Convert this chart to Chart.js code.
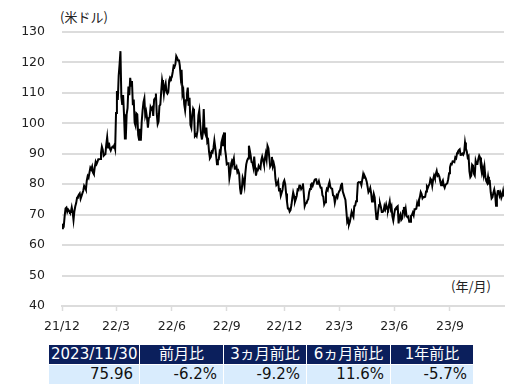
<!DOCTYPE html>
<html>
<head>
<meta charset="utf-8">
<script src="https://cdn.jsdelivr.net/npm/chart.js@4"></script>
<style>
  body { margin: 0; background: #fff; width: 529px; height: 386px; overflow: hidden; position: relative; font-family: "DejaVu Sans", sans-serif; }
  #wrap { position: absolute; left: 0; top: 0; width: 529px; height: 340px; }
  .unit { position: absolute; font-family: "Noto Sans CJK JP", sans-serif; font-size: 13px; color: #222; }
  table { position: absolute; left: 48px; top: 344px; border-collapse: collapse; table-layout: fixed; width: 425px; }
  td { padding: 0 6px; height: 19px; border: 1px solid #fff; font-size: 15px; line-height: 19px; white-space: nowrap; overflow: hidden; }
  tr.head td { background: #0b1f5c; color: #fff; text-align: center; font-family: "DejaVu Sans", "Noto Sans CJK JP", sans-serif; padding: 0 2px; }
  tr.vals td { background: #d9ecfd; color: #111; text-align: right; }
</style>
</head>
<body>
<div class="unit" style="left:60px; top:7px;">(米ドル)</div>
<div class="unit" style="left:451px; top:276px;">(年/月)</div>
<div id="wrap"><canvas id="oilChart" width="529" height="340"></canvas></div>
<table id="summary"></table>
<script>
// WTI daily close, grouped by month (USD/bbl)
const m2112 = [65.57, 66.50, 66.26, 69.49, 72.05, 72.36, 70.94, 71.67, 71.29, 70.73, 70.87, 72.38, 70.86, 68.23, 71.12, 72.76, 73.79, 75.57, 75.98, 76.56, 76.99, 75.21];
const m2201 = [76.08, 76.99, 77.85, 79.46, 78.90, 78.23, 81.22, 82.64, 82.12, 83.82, 85.43, 84.89, 85.80, 83.82, 83.31, 85.60, 87.35, 86.61, 87.35, 88.20];
const m2202 = [88.20, 88.26, 90.27, 92.31, 91.32, 89.36, 89.66, 89.88, 93.10, 95.46, 92.07, 93.66, 91.76, 91.07, 91.91, 92.35, 92.10, 92.81, 91.59];
const m2203 = [103.41, 110.60, 107.67, 115.68, 119.40, 123.70, 108.70, 106.02, 109.33, 103.01, 95.04, 95.04, 102.98, 104.98, 112.12, 109.27, 114.93, 112.34, 113.90, 105.96, 107.82, 100.28];
const m2204 = [99.27, 103.28, 102.96, 96.23, 94.58, 98.26, 94.29, 100.60, 104.25, 106.95, 108.21, 102.56, 103.79, 101.70, 98.54, 101.70, 102.07, 105.36, 104.69];
const m2205 = [105.17, 102.41, 107.81, 108.26, 109.77, 103.09, 99.76, 100.60, 105.71, 106.13, 110.49, 114.20, 112.40, 109.59, 112.21, 113.23, 110.28, 109.77, 110.33, 114.09, 115.07, 114.67];
const m2206 = [115.26, 116.87, 118.87, 118.50, 119.41, 122.11, 121.51, 120.67, 120.93, 118.93, 115.31, 117.59, 109.56, 110.65, 106.19, 104.27, 107.62, 109.57, 111.76, 105.76];
const m2207 = [108.43, 99.50, 98.53, 102.73, 104.79, 104.09, 95.84, 96.30, 95.78, 97.59, 102.60, 104.22, 99.88, 96.35, 94.70, 96.70, 104.72, 97.26, 96.42, 98.62];
const m2208 = [93.89, 94.42, 90.66, 88.54, 89.01, 90.76, 90.50, 91.93, 94.34, 92.09, 89.41, 86.53, 87.91, 88.11, 90.77, 90.23, 93.74, 94.89, 92.52, 97.01, 91.64, 89.55];
const m2209 = [86.61, 86.87, 86.88, 81.94, 83.54, 86.79, 87.78, 87.31, 88.48, 85.10, 85.11, 85.73, 83.94, 84.45, 83.49, 78.74, 76.71, 78.50, 82.15, 81.23, 79.49];
const m2210 = [83.63, 86.52, 87.76, 88.45, 92.64, 91.13, 89.35, 87.27, 87.11, 85.61, 89.11, 85.46, 82.82, 84.52, 84.51, 85.98, 85.32, 85.05, 87.91, 89.08, 87.90, 86.53];
const m2211 = [88.37, 90.00, 88.17, 92.61, 91.79, 88.91, 85.83, 86.47, 88.96, 85.87, 86.92, 85.59, 81.64, 79.73, 80.08, 80.95, 77.94, 78.74, 76.28, 77.24, 78.20, 80.55];
const m2212 = [81.22, 79.98, 76.93, 74.25, 72.01, 72.01, 71.02, 71.46, 73.17, 75.39, 77.28, 76.11, 74.29, 75.19, 76.23, 78.29, 78.09, 79.56, 79.53, 78.40, 78.96, 80.26];
const m2301 = [76.93, 72.84, 73.67, 73.77, 74.63, 75.12, 77.41, 78.39, 79.86, 80.18, 79.48, 80.33, 81.31, 81.62, 81.64, 80.13, 80.15, 81.01, 79.68, 78.87, 78.87];
const m2302 = [76.41, 75.88, 73.39, 74.11, 77.14, 78.47, 78.06, 79.72, 80.72, 79.06, 78.59, 78.50, 76.34, 76.16, 73.95, 75.39, 76.32, 75.68, 77.05];
const m2303 = [77.69, 78.16, 79.68, 80.46, 77.58, 76.66, 75.72, 74.80, 71.33, 67.61, 68.35, 66.74, 67.64, 69.33, 70.90, 69.96, 69.26, 72.81, 72.97, 74.37, 75.67];
const m2304 = [80.42, 80.71, 80.61, 80.70, 79.74, 81.53, 83.26, 82.16, 82.52, 81.86, 80.83, 79.16, 77.37, 77.87, 78.76, 77.07, 74.30, 74.76, 76.78];
const m2305 = [75.66, 71.66, 68.60, 68.56, 71.34, 73.16, 73.71, 72.56, 70.87, 70.87, 71.11, 72.83, 71.86, 73.32, 71.99, 71.55, 72.91, 74.34, 71.83, 72.67, 69.46, 68.09];
const m2306 = [70.10, 71.74, 72.15, 72.53, 72.79, 67.12, 69.42, 70.12, 68.27, 68.69, 71.29, 72.53, 70.50, 71.93, 69.51, 69.16, 69.37, 67.70, 67.70, 69.56, 69.86, 70.64];
const m2307 = [69.79, 71.79, 71.80, 71.99, 73.86, 72.99, 74.83, 75.75, 77.42, 76.77, 75.37, 75.80, 75.73, 75.86, 77.64, 79.26, 78.79, 79.58, 80.09, 81.80];
const m2308 = [81.37, 79.49, 81.55, 82.82, 81.94, 83.40, 84.40, 82.82, 83.19, 82.51, 80.99, 79.64, 80.66, 81.25, 79.64, 78.89, 79.83, 80.10, 80.35, 81.63, 83.63];
const m2309 = [85.55, 86.69, 86.54, 87.54, 87.51, 87.29, 88.84, 88.52, 90.16, 90.77, 91.20, 91.48, 89.63, 89.68, 90.03, 89.68, 90.39, 93.68, 91.71, 90.79];
const m2310 = [88.82, 89.23, 84.22, 82.31, 82.79, 86.38, 85.97, 83.49, 82.91, 87.69, 86.66, 86.66, 88.32, 89.37, 88.75, 85.49, 83.74, 85.39, 83.21, 85.54, 82.31, 81.02];
const m2311 = [80.44, 82.46, 80.51, 80.82, 77.37, 75.33, 75.74, 77.17, 78.26, 76.66, 72.90, 75.89, 77.77, 77.83, 76.24, 77.10, 75.54, 76.41, 77.86, 75.96];

const months = [m2112, m2201, m2202, m2203, m2204, m2205, m2206, m2207, m2208, m2209, m2210, m2211,
  m2212, m2301, m2302, m2303, m2304, m2305, m2306, m2307, m2308, m2309, m2310, m2311];

// quarter tick labels and which month (index in months) they start at
const tickLabels = ["21/12", "22/3", "22/6", "22/9", "22/12", "23/3", "23/6", "23/9"];
const tickMonths = [0, 3, 6, 9, 12, 15, 18, 21];

const yTicks = [40, 50, 60, 70, 80, 90, 100, 110, 120, 130];

// summary table
const tableHead = ["2023/11/30", "前月比", "3ヵ月前比", "6ヵ月前比", "1年前比"];
const tableVals = ["75.96", "-6.2%", "-9.2%", "11.6%", "-5.7%"];
const colWidths = [91, 84, 83, 84, 83];

// build points from the monthly arrays (x = trading-day index)
const points = [];
const monthStart = [];
months.forEach((m) => {
  monthStart.push(points.length);
  m.forEach((v) => points.push({ x: points.length, y: v }));
});
const tickPos = tickMonths.map((i) => monthStart[i]);

const gridColor = "#dcdcdc";
const textColor = "#222";

new Chart(document.getElementById("oilChart").getContext("2d"), {
  type: "line",
  data: {
    datasets: [
      {
        data: points,
        borderColor: "#000",
        borderWidth: 2,
        pointRadius: 0,
        tension: 0,
        fill: false,
      },
    ],
  },
  options: {
    responsive: false,
    animation: false,
    layout: { padding: { left: 0, right: 25, top: 32, bottom: 0 } },
    plugins: { legend: { display: false }, tooltip: { enabled: false } },
    scales: {
      x: {
        type: "linear",
        min: 0,
        max: points.length - 1,
        afterBuildTicks: (scale) => {
          scale.ticks = tickPos.map((v) => ({ value: v }));
        },
        afterFit: (scale) => {
          scale.height = 34;
        },
        ticks: {
          autoSkip: false,
          maxRotation: 0,
          padding: 8,
          color: textColor,
          font: { family: "DejaVu Sans", size: 12.5 },
          callback: (v) => tickLabels[tickPos.indexOf(v)],
        },
        grid: {
          drawOnChartArea: false,
          drawTicks: true,
          tickLength: 5,
          tickColor: gridColor,
          tickWidth: 1.5,
        },
        border: { display: true, color: gridColor, width: 2 },
      },
      y: {
        min: 40,
        max: 130,
        afterBuildTicks: (scale) => {
          scale.ticks = yTicks.map((v) => ({ value: v }));
        },
        afterFit: (scale) => {
          scale.width = 62;
        },
        ticks: {
          padding: 17,
          color: textColor,
          font: { family: "DejaVu Sans", size: 12.5 },
        },
        grid: { color: gridColor, lineWidth: 2, drawTicks: false },
        border: { display: false },
      },
    },
  },
});

// fill the table
const tbl = document.getElementById("summary");
const colgroup = document.createElement("colgroup");
colWidths.forEach((w) => {
  const c = document.createElement("col");
  c.style.width = w + "px";
  colgroup.appendChild(c);
});
tbl.appendChild(colgroup);
[["head", tableHead], ["vals", tableVals]].forEach(([cls, row]) => {
  const tr = document.createElement("tr");
  tr.className = cls;
  row.forEach((t) => {
    const td = document.createElement("td");
    td.textContent = t;
    tr.appendChild(td);
  });
  tbl.appendChild(tr);
});
</script>
</body>
</html>
